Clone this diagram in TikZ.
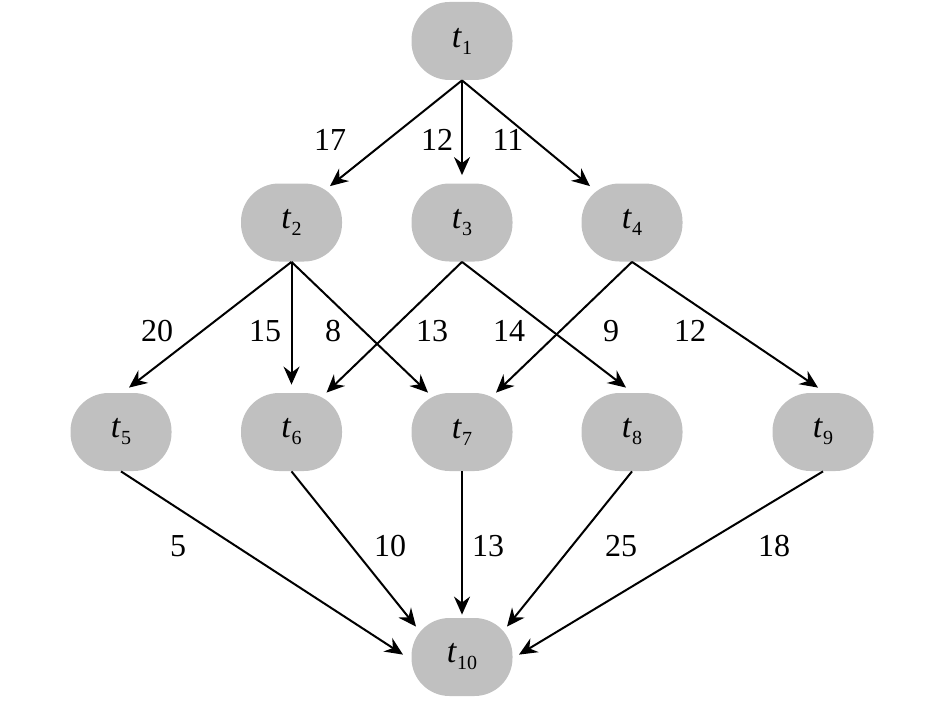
\documentclass[tikz,border=0pt]{standalone}
\usepackage{fontspec}
\setmainfont{Liberation Serif}
\usetikzlibrary{arrows.meta,calc}
\definecolor{taskgray}{HTML}{C0C0C0}
\newcommand{\tsub}[1]{\textit{t}\raisebox{-3.5pt}{\fontsize{10}{11}\selectfont #1}}

\begin{document}
\begin{tikzpicture}[x=.5pt,y=-.5pt,
	task/.style={fill=taskgray,rounded corners=19pt,minimum width=50.5pt,minimum height=39pt,inner sep=0pt,font=\fontsize{17}{19}\selectfont},
	edge/.style={-{Stealth[length=9pt,width=8pt,inset=3pt]},line width=1pt},
	weight/.style={font=\fontsize{16}{18}\selectfont}]
			\useasboundingbox (0,0) rectangle (945,700);
			% tasks
			\foreach \n/\x/\y in {1/462/41,2/291.5/222.5,3/462/222.5,4/632/222.5,5/121/432,6/291.5/432,7/462/432,8/632/432,9/823/432,10/462/657}
			\node[task] (t\n) at (\x,\y) {\tsub{\n}};
			% edges
			\foreach \a/\b/\dx/\dy in {1/2/38.5/3,1/3/0/-8,1/4/-42/3,2/5/8/-5,2/6/0/-8,2/7/-34/0,3/6/35/0,3/8/-6/-5,4/7/34/0,4/9/-5/-5,5/10/-59/37,6/10/-46/9,7/10/0/-3,8/10/45/9,9/10/57/37}
			\draw[edge] (t\a.south) -- ($(t\b.north)+(\dx,\dy)$);
			% weights
			\foreach \x/\y/\w [count=\i] in {330/140/17,437/140/12,508/140/11,157/331/20,265/331/15,333/331/8,432/331/13,509/331/14,611/331/9,690/331/12,178/546/5,390/546/10,488/546/13,621/546/25,774/546/18}
			\node[weight] (w\i) at (\x,\y) {\w};
		\end{tikzpicture}
\end{document}
